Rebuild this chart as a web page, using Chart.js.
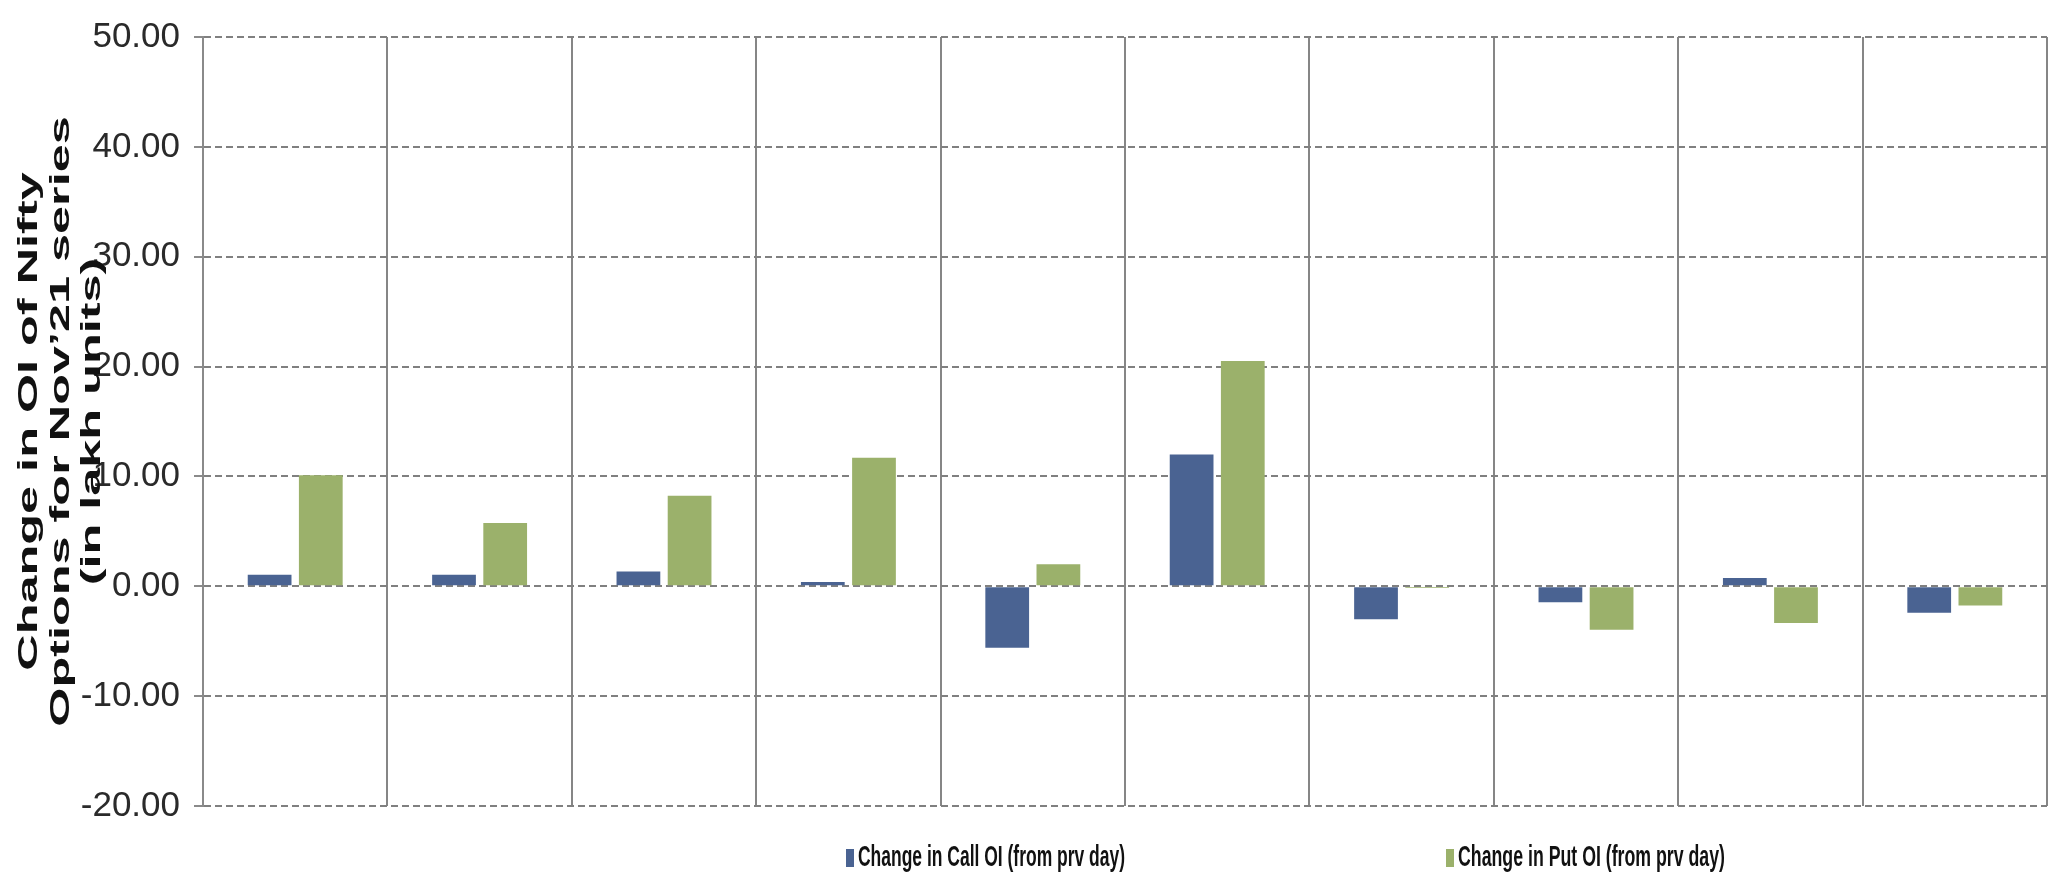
<!DOCTYPE html>
<html>
<head>
<meta charset="utf-8">
<script src="https://cdn.jsdelivr.net/npm/chart.js@4.4.1/dist/chart.umd.min.js"></script>
<style>
  html, body { margin: 0; padding: 0; background: #fff; }
  #wrap { width: 2055px; height: 880px; position: relative; }
</style>
</head>
<body>
<div id="wrap"><canvas id="oiChart"></canvas></div>
<script>
// categories are not labelled in the source picture
const categories = ['', '', '', '', '', '', '', '', '', ''];
const callOiChange = [1.05, 1.05, 1.35, 0.4, -5.6, 12.0, -3.0, -1.45, 0.75, -2.4];
const putOiChange = [10.1, 5.75, 8.25, 11.7, 2.0, 20.5, -0.15, -3.95, -3.35, -1.75];
const seriesNames = ['Change in Call OI (from prv day)', 'Change in Put OI (from prv day)'];
const yTicks = [50, 40, 30, 20, 10, 0, -10, -20];
const yTitleLines = ['Change in OI of Nifty', 'Options for Nov\u201921 series', '(in lakh units)'];

const CALL_COLOR = '#4a6392';
const PUT_COLOR = '#9bb16b';

// stretched, rotated three-line axis title + hand-placed legend like the Excel original
const extrasPlugin = {
  id: 'extras',
  afterDraw(chart) {
    const ctx = chart.ctx;
    const area = chart.chartArea;
    const cy = (area.top + area.bottom) / 2;

    ctx.save();
    ctx.fillStyle = '#111';
    ctx.font = 'bold 28px "Liberation Sans", Arial, sans-serif';
    ctx.textAlign = 'center';
    ctx.textBaseline = 'middle';
    const lineX = [29, 61, 92];
    yTitleLines.forEach((line, i) => {
      ctx.save();
      ctx.translate(lineX[i], cy);
      ctx.rotate(-Math.PI / 2);
      ctx.scale(1.8, 1);
      ctx.fillText(line, 0, 0);
      ctx.restore();
    });
    ctx.restore();

    ctx.save();
    const legendX = [846, 1446];
    const legendY = 858;
    ctx.font = 'bold 29px "Liberation Sans Narrow", "Liberation Sans", Arial, sans-serif';
    ctx.textAlign = 'left';
    ctx.textBaseline = 'middle';
    chart.data.datasets.forEach((ds, i) => {
      ctx.fillStyle = ds.backgroundColor;
      ctx.fillRect(legendX[i], legendY - 9, 8, 18);
      ctx.fillStyle = '#111';
      ctx.fillText(ds.label, legendX[i] + 12, legendY, 267);
    });
    ctx.restore();
  }
};

const ctx = document.getElementById('oiChart').getContext('2d');
new Chart(ctx, {
  type: 'bar',
  data: {
    labels: categories,
    datasets: [
      {
        label: seriesNames[0],
        data: callOiChange,
        backgroundColor: CALL_COLOR,
        categoryPercentage: 0.555,
        barPercentage: 0.855,
      },
      {
        label: seriesNames[1],
        data: putOiChange,
        backgroundColor: PUT_COLOR,
        categoryPercentage: 0.555,
        barPercentage: 0.855,
      },
    ],
  },
  options: {
    responsive: true,
    maintainAspectRatio: false,
    animation: false,
    layout: {
      padding: { left: 0, right: 8, top: 37, bottom: 74 },
    },
    plugins: {
      legend: { display: false },
      tooltip: { enabled: false },
    },
    scales: {
      x: {
        grid: {
          display: true,
          offset: true,
          color: '#868686',
          lineWidth: 2,
          drawTicks: false,
        },
        border: { display: false, dash: [] },
        ticks: { display: false },
      },
      y: {
        min: -20,
        max: 50,
        afterBuildTicks(axis) {
          axis.ticks = yTicks.map(v => ({ value: v }));
        },
        afterFit(axis) {
          axis.width = 203;
        },
        grid: {
          color: '#808080',
          lineWidth: 2,
          tickLength: 9,
          tickColor: '#8a8a8a',
          tickWidth: 2,
        },
        border: { display: true, color: '#8a8a8a', width: 2, dash: [7, 4] },
        ticks: {
          padding: 14,
          color: '#2a2a2a',
          font: { family: '"Liberation Sans Narrow", "Liberation Sans", Arial, sans-serif', size: 35 },
          callback: v => Number(v).toFixed(2),
        },
      },
    },
  },
  plugins: [extrasPlugin],
});
</script>
</body>
</html>
